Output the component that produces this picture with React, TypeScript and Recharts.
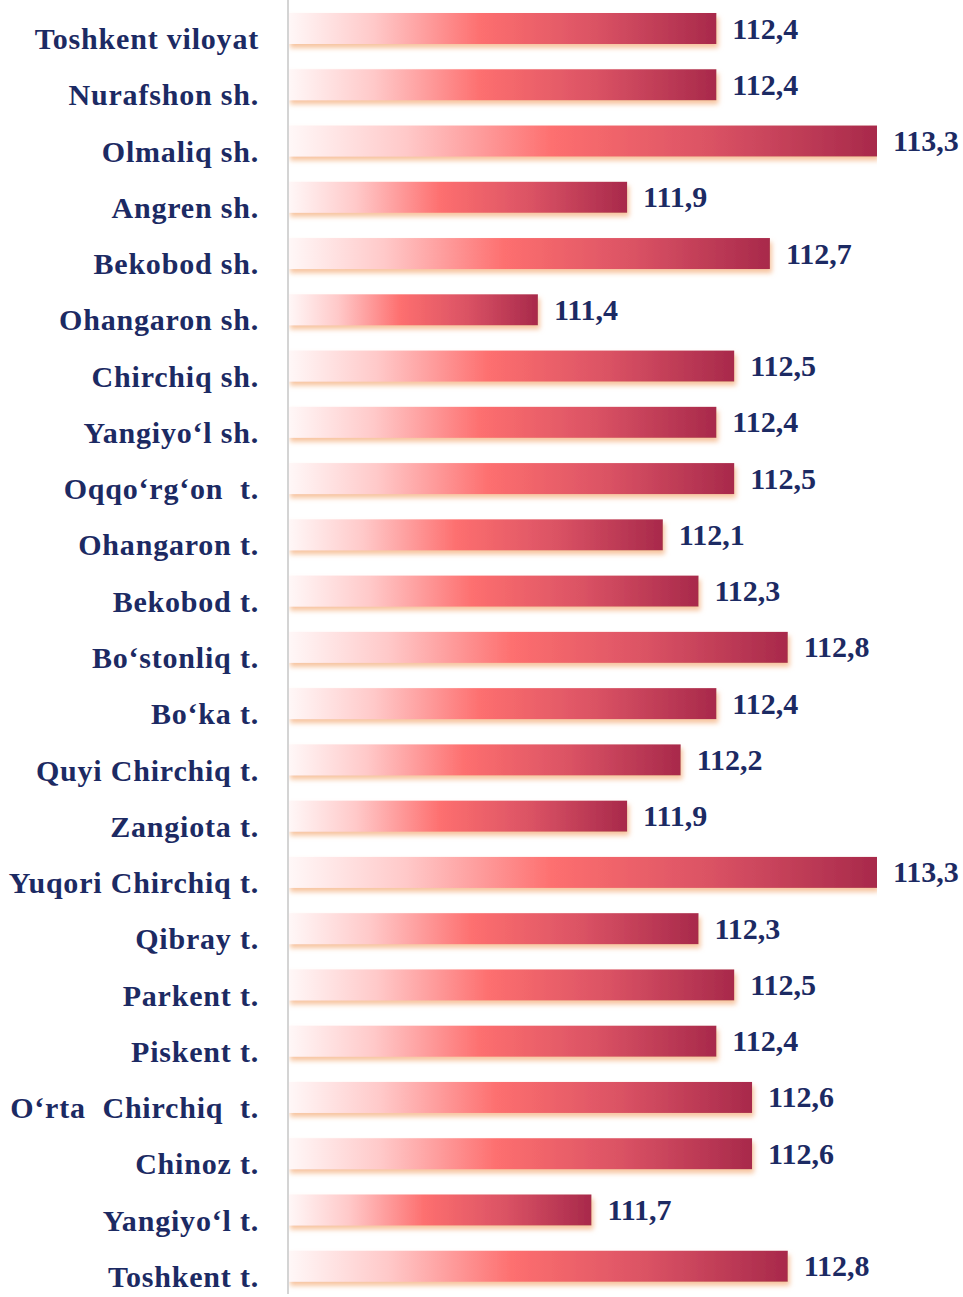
import { BarChart, Bar, XAxis, YAxis, LabelList } from "recharts";

const regions = [
  "Toshkent viloyat",
  "Nurafshon sh.",
  "Olmaliq sh.",
  "Angren sh.",
  "Bekobod sh.",
  "Ohangaron sh.",
  "Chirchiq sh.",
  "Yangiyo‘l sh.",
  "Oqqo‘rg‘on  t.",
  "Ohangaron t.",
  "Bekobod t.",
  "Bo‘stonliq t.",
  "Bo‘ka t.",
  "Quyi Chirchiq t.",
  "Zangiota t.",
  "Yuqori Chirchiq t.",
  "Qibray t.",
  "Parkent t.",
  "Piskent t.",
  "O‘rta  Chirchiq  t.",
  "Chinoz t.",
  "Yangiyo‘l t.",
  "Toshkent t.",
];

const indexValues = [
  112.4, 112.4, 113.3, 111.9, 112.7, 111.4, 112.5, 112.4, 112.5, 112.1, 112.3, 112.8,
  112.4, 112.2, 111.9, 113.3, 112.3, 112.5, 112.4, 112.6, 112.6, 111.7, 112.8,
];

const data = regions.map((name, i) => ({ name, value: indexValues[i] }));

const NAVY = "#1c2a63";
const FONT = "'Liberation Serif', 'Times New Roman', serif";

function RegionTick({ x, y, payload }: any) {
  return (
    <text
      x={x}
      y={y}
      dy={21}
      textAnchor="end"
      fill={NAVY}
      fontFamily={FONT}
      fontWeight="bold"
      fontSize={30}
      letterSpacing={0.8}
      style={{ whiteSpace: "pre" }}
    >
      {payload.value}
    </text>
  );
}

function BarShape({ x, y, width, height }: any) {
  return (
    <rect
      x={x}
      y={y}
      width={width}
      height={height}
      fill="url(#barGrad)"
      filter="url(#barShadow)"
    />
  );
}

function ValueLabel({ x, y, width, height, value }: any) {
  return (
    <text
      x={x + width + 16}
      y={y + height / 2 + 10}
      fill={NAVY}
      fontFamily={FONT}
      fontWeight="bold"
      fontSize={30}
    >
      {String(value).replace(".", ",")}
    </text>
  );
}

export default function App() {
  return (
    <div
      style={{
        position: "absolute",
        top: 0,
        left: 0,
        background: "#fff",
        width: 963,
        height: 1297,
        overflow: "hidden",
      }}
    >
      <BarChart
        width={963}
        height={1297}
        data={data}
        layout="vertical"
        margin={{ top: 0, right: 86, bottom: 3, left: 0 }}
        barSize={31}
      >
        <defs>
          <linearGradient id="barGrad" x1="0" y1="0" x2="1" y2="0">
            <stop offset="0%" stopColor="#fff8f8" />
            <stop offset="20%" stopColor="#ffc9c9" />
            <stop offset="45%" stopColor="#fd6f6f" />
            <stop offset="72%" stopColor="#da5264" />
            <stop offset="100%" stopColor="#a8294b" />
          </linearGradient>
          <filter id="barShadow" x="-5%" y="-30%" width="115%" height="180%">
            <feDropShadow dx="2" dy="4" stdDeviation="2.5" floodColor="#f4b07e" floodOpacity="0.75" />
          </filter>
        </defs>
        <XAxis type="number" hide domain={[110, 113.3]} allowDataOverflow />
        <YAxis
          type="category"
          dataKey="name"
          width={288}
          axisLine={{ stroke: "#d4d4d4", strokeWidth: 2 }}
          tickLine={false}
          tickSize={0}
          tickMargin={29}
          interval={0}
          tick={<RegionTick />}
        />
        <Bar dataKey="value" shape={<BarShape />} isAnimationActive={false}>
          <LabelList dataKey="value" content={<ValueLabel />} />
        </Bar>
      </BarChart>
    </div>
  );
}
